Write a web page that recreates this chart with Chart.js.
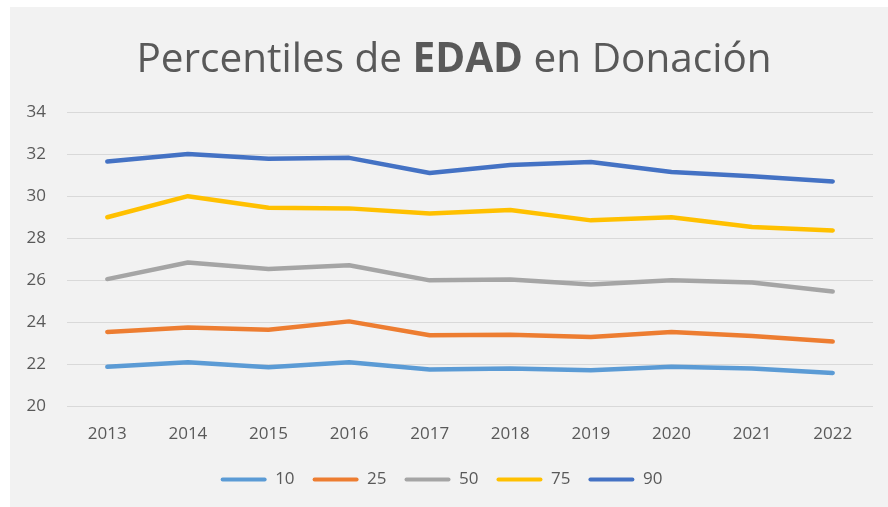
<!DOCTYPE html>
<html>
<head>
<meta charset="utf-8">
<script src="https://cdn.jsdelivr.net/npm/chart.js@4.4.1/dist/chart.umd.min.js"></script>
<style>
  html, body { margin: 0; padding: 0; background: #fff; }
  #panel { position: absolute; left: 10px; top: 7px; width: 878px; height: 500px; background: #f2f2f2; }
</style>
</head>
<body>
<div id="panel"><canvas id="grafico" width="878" height="500"></canvas></div>
<script>
// Datos
const anios = ['2013', '2014', '2015', '2016', '2017', '2018', '2019', '2020', '2021', '2022'];
const p10 = [21.89, 22.11, 21.87, 22.11, 21.76, 21.81, 21.73, 21.89, 21.81, 21.60];
const p25 = [23.55, 23.76, 23.65, 24.05, 23.39, 23.42, 23.31, 23.55, 23.36, 23.09];
const p50 = [26.06, 26.85, 26.54, 26.72, 26.00, 26.04, 25.80, 26.00, 25.90, 25.47];
const p75 = [29.00, 30.00, 29.45, 29.42, 29.18, 29.34, 28.85, 29.00, 28.53, 28.37];
const p90 = [31.65, 32.00, 31.78, 31.82, 31.10, 31.48, 31.62, 31.15, 30.95, 30.70];
const etiquetas = ['10', '25', '50', '75', '90'];
const colores = ['#5B9BD5', '#ED7D31', '#A5A5A5', '#FFC000', '#4472C4'];

const gris = '#595959';
const fuente = '"Open Sans", "Noto Sans", sans-serif';

// Título con "EDAD" en negrita
const tituloPlugin = {
  id: 'tituloMixto',
  afterDraw(chart) {
    const ctx = chart.ctx;
    const partes = [
      { t: 'Percentiles de ', b: false },
      { t: 'EDAD', b: true },
      { t: ' en Donación', b: false }
    ];
    const size = 40.5;
    ctx.save();
    ctx.fillStyle = gris;
    ctx.textBaseline = 'alphabetic';
    let total = 0;
    for (const p of partes) {
      ctx.font = (p.b ? 'bold ' : '') + size + 'px ' + fuente;
      p.w = ctx.measureText(p.t).width;
      total += p.w;
    }
    let x = 444 - total / 2;
    for (const p of partes) {
      ctx.font = (p.b ? 'bold ' : '') + size + 'px ' + fuente;
      ctx.textAlign = 'left';
      ctx.fillText(p.t, x, 65);
      x += p.w;
    }
    ctx.restore();
  }
};

const series = [p10, p25, p50, p75, p90];

new Chart(document.getElementById('grafico'), {
  type: 'line',
  data: {
    labels: anios,
    datasets: series.map((d, i) => ({
      label: etiquetas[i],
      data: d,
      borderColor: colores[i],
      backgroundColor: colores[i],
      borderWidth: 4.5,
      borderCapStyle: 'round',
      borderJoinStyle: 'round',
      pointRadius: 0,
      tension: 0,
      fill: false
    }))
  },
  options: {
    responsive: false,
    animation: false,
    layout: { padding: { top: 105, right: 15, left: 0, bottom: 9 } },
    plugins: {
      title: { display: false },
      tooltip: { enabled: false },
      legend: {
        position: 'bottom',
        labels: {
          boxWidth: 46,
          boxHeight: 4,
          padding: 18,
          useBorderRadius: true,
          borderRadius: 2,
          color: gris,
          font: { family: fuente, size: 17 },
          generateLabels(chart) {
            const items = Chart.defaults.plugins.legend.labels.generateLabels(chart);
            items.forEach(it => { it.lineWidth = 0; });
            return items;
          }
        }
      }
    },
    scales: {
      x: {
        offset: true,
        grid: { display: false },
        border: { display: false },
        ticks: { color: gris, font: { family: fuente, size: 17 }, padding: 9 }
      },
      y: {
        min: 20,
        max: 34,
        afterFit(scale) { scale.width = 57; },
        grid: { color: '#d9d9d9', lineWidth: 1, drawTicks: false },
        border: { display: false },
        ticks: { stepSize: 2, color: gris, font: { family: fuente, size: 17 }, padding: 21 }
      }
    }
  },
  plugins: [tituloPlugin]
});
</script>
</body>
</html>
